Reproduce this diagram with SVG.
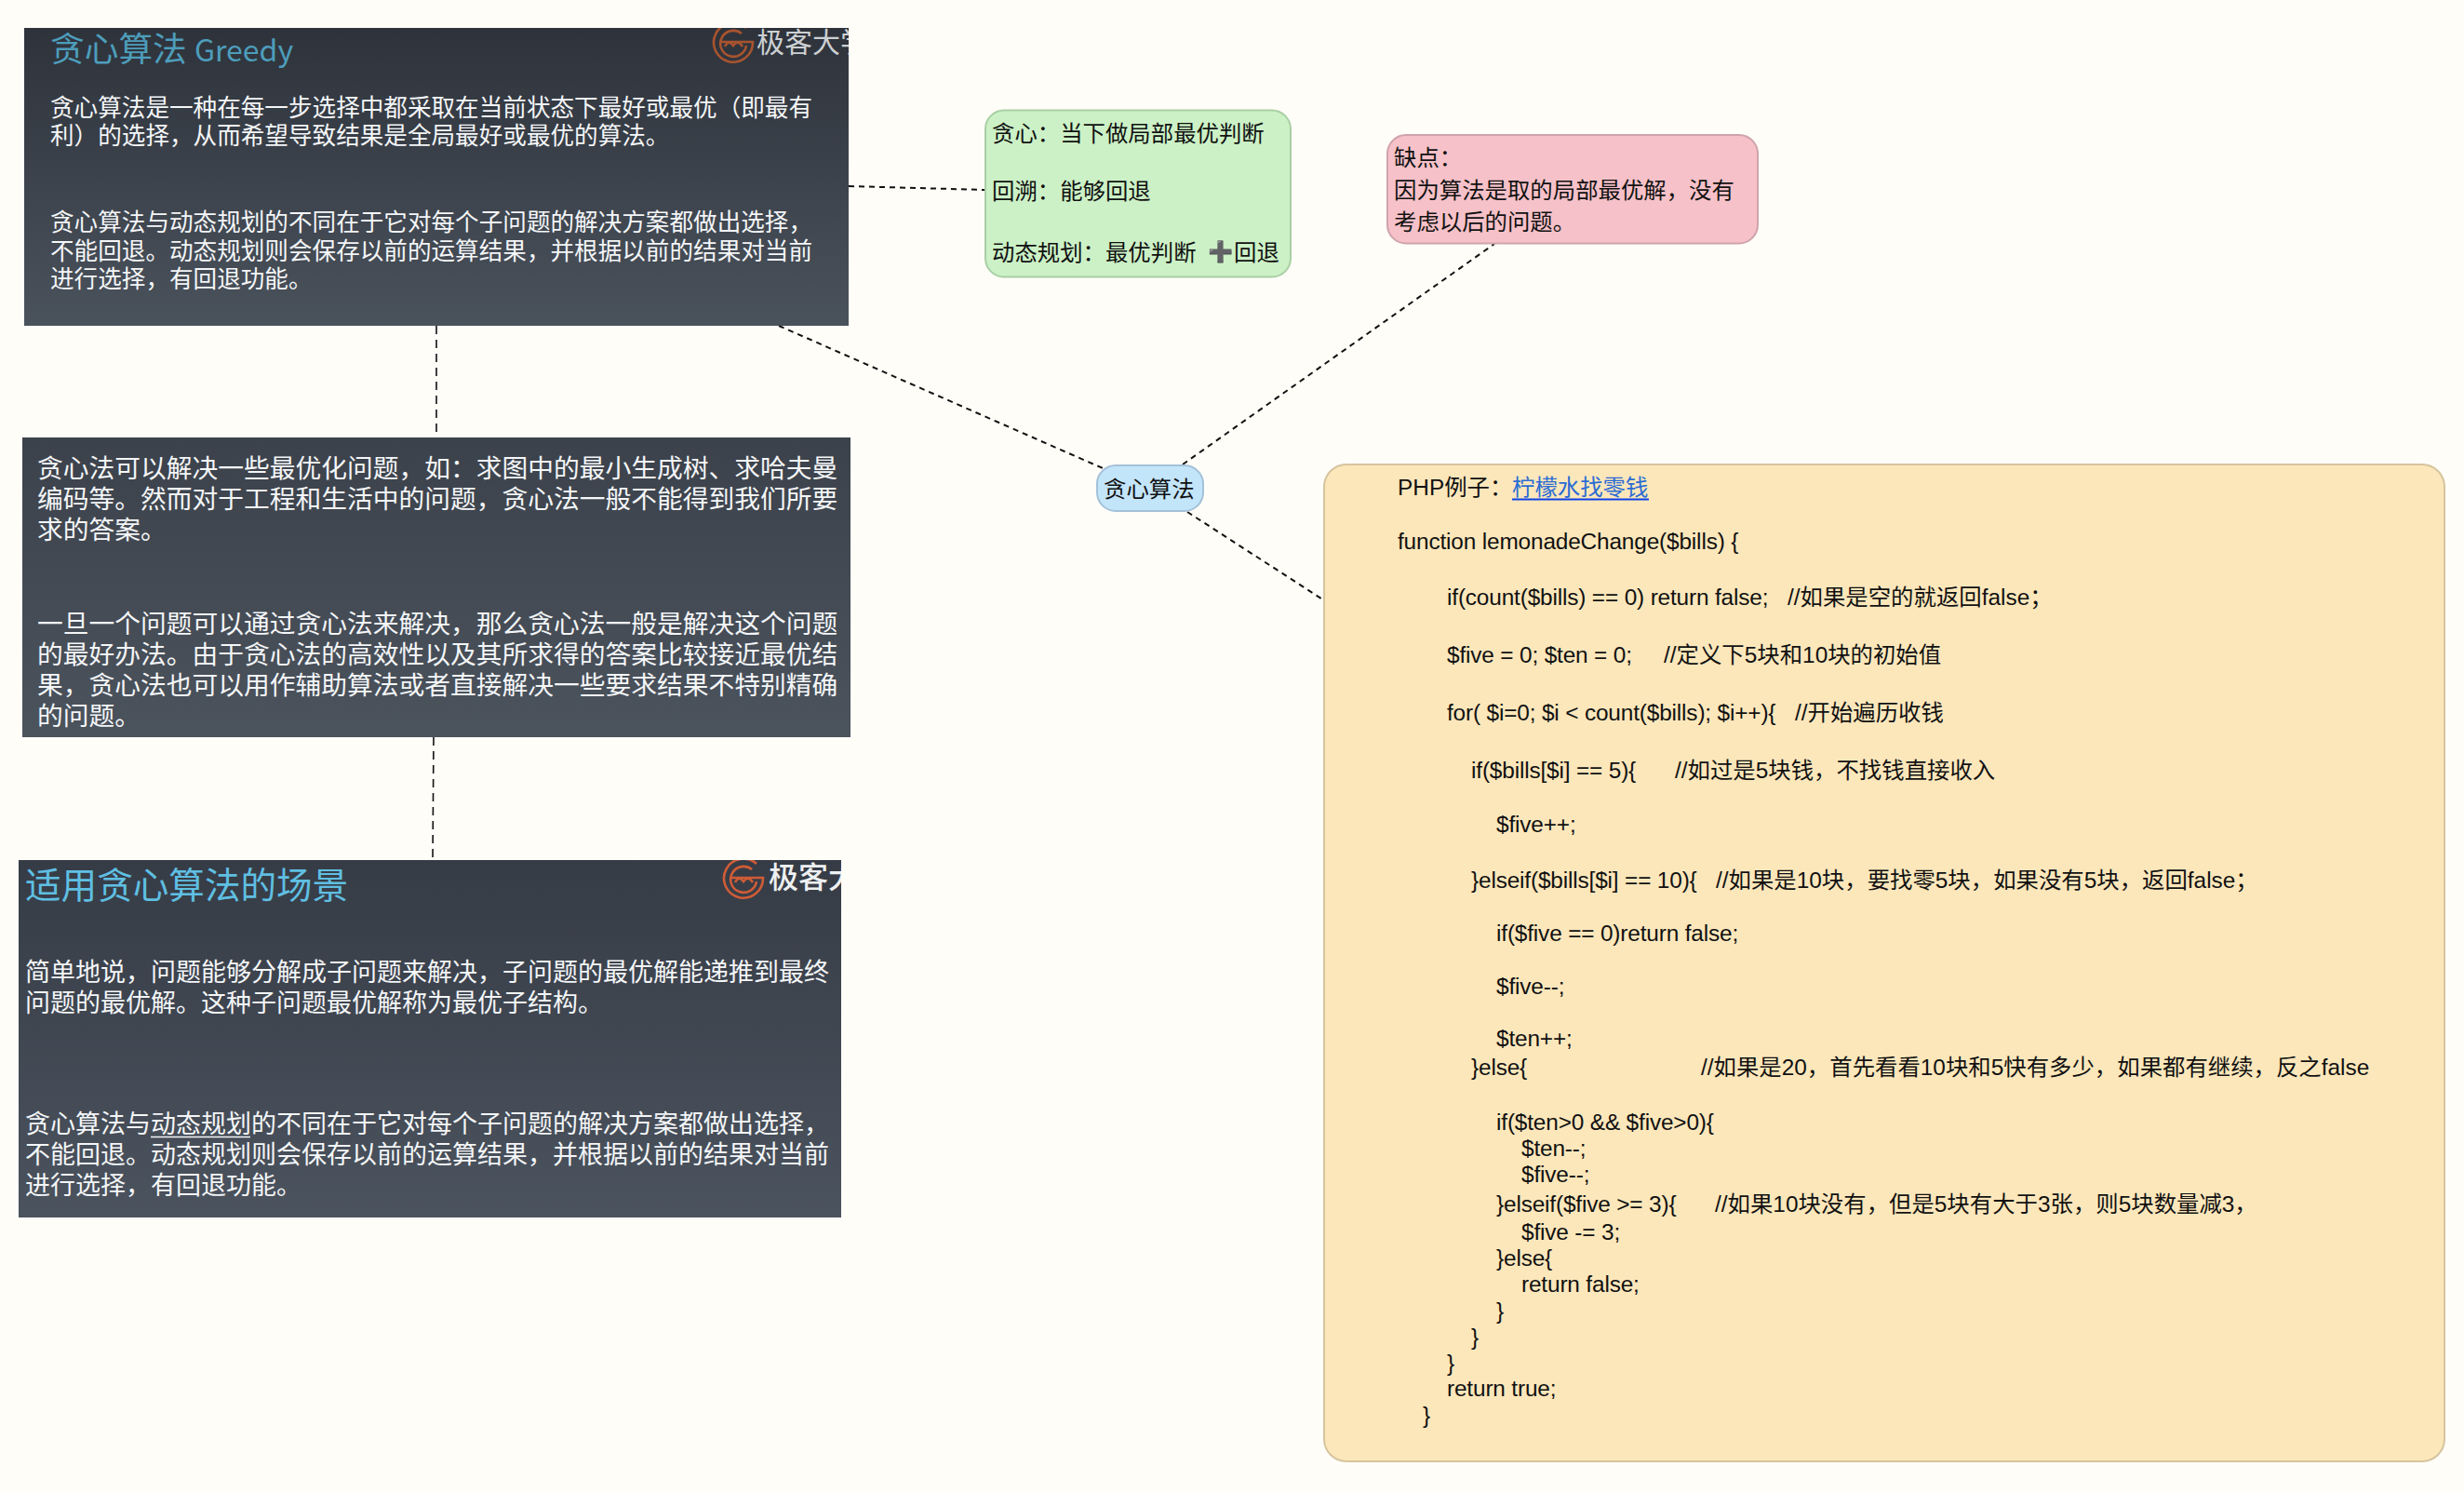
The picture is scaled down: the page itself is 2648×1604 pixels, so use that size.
<svg xmlns="http://www.w3.org/2000/svg" width="2648" height="1604" viewBox="0 0 2648 1604">
<defs>
<style>
text{font-family:"Liberation Sans","Noto Sans CJK SC",sans-serif;white-space:pre}
.w{fill:#f4f6f8;font-family:"Noto Sans CJK SC",sans-serif}
.w1{font-size:25.6px}.w2{font-size:27.75px}.w3{font-size:27px}
.k{fill:#111;font-size:24.4px}
.l{letter-spacing:-.16px}
.l tspan{letter-spacing:0}
.c{fill:none;stroke:#111;stroke-width:2;stroke-dasharray:6 5}
.v{fill:none;stroke:#111;stroke-width:1.6;stroke-dasharray:9 6}
.lg{fill:none;stroke-width:2.6}
</style>
<linearGradient id="g1" x1="0" y1="0" x2="0" y2="1"><stop offset="0" stop-color="#2e333b"/><stop offset="1" stop-color="#4a525c"/></linearGradient>
<linearGradient id="g2" x1="0" y1="0" x2="0" y2="1"><stop offset="0" stop-color="#3c424b"/><stop offset="1" stop-color="#4b535d"/></linearGradient>
<linearGradient id="g3" x1="0" y1="0" x2="0" y2="1"><stop offset="0" stop-color="#363c46"/><stop offset="1" stop-color="#4b535e"/></linearGradient>
<clipPath id="cp1"><rect x="26" y="30" width="886" height="320"/></clipPath>
<clipPath id="cp3"><rect x="20" y="924" width="884" height="384"/></clipPath>
<symbol id="logo" overflow="visible">
<path class="lg" d="M14-16A21 21 0 1 0 21-1H-13"/>
<path class="lg" d="M9-10A14 14 0 1 0 14 3"/>
<path class="lg" d="M-9 4Q-5-4 0 3Q5-4 10 4"/>
</symbol>
</defs>
<rect width="2648" height="1604" fill="#fffdf8"/>
<g id="connectors">
<path class="c" d="M912 200L1059 204"/>
<path class="v" d="M469 350V470"/>
<path class="v" d="M466 792L465 924"/>
<path class="c" d="M837 350L1185 503"/>
<path class="c" d="M1271 499L1606 262"/>
<path class="c" d="M1276 550L1423 645"/>
</g>
<g id="node-greedy">
<rect x="26" y="30" width="886" height="320" fill="url(#g1)"/>
<g clip-path="url(#cp1)">
<use href="#logo" x="788" y="46" stroke="#a8532f"/>
<text x="813" y="56" font-size="30" fill="#cdd0d3" style="font-family:'Noto Sans CJK SC',sans-serif">极客大学</text>
</g>
<text x="54" y="66" font-size="36.7" fill="#4d9dbb" style="font-family:'Noto Sans CJK SC',sans-serif">贪心算法 <tspan font-size="32">Greedy</tspan></text>
<text class="w w1" x="54" y="125">贪心算法是一种在每一步选择中都采取在当前状态下最好或最优（即最有</text>
<text class="w w1" x="54" y="155">利）的选择，从而希望导致结果是全局最好或最优的算法。</text>
<text class="w w1" x="54" y="248">贪心算法与动态规划的不同在于它对每个子问题的解决方案都做出选择，</text>
<text class="w w1" x="54" y="279">不能回退。动态规划则会保存以前的运算结果，并根据以前的结果对当前</text>
<text class="w w1" x="54" y="309">进行选择，有回退功能。</text>
</g>
<g id="node-uses">
<rect x="24" y="470" width="890" height="322" fill="url(#g2)"/>
<text class="w w2" x="40" y="513">贪心法可以解决一些最优化问题，如：求图中的最小生成树、求哈夫曼</text>
<text class="w w2" x="40" y="546">编码等。然而对于工程和生活中的问题，贪心法一般不能得到我们所要</text>
<text class="w w2" x="40" y="579">求的答案。</text>
<text class="w w2" x="40" y="680">一旦一个问题可以通过贪心法来解决，那么贪心法一般是解决这个问题</text>
<text class="w w2" x="40" y="713">的最好办法。由于贪心法的高效性以及其所求得的答案比较接近最优结</text>
<text class="w w2" x="40" y="746">果，贪心法也可以用作辅助算法或者直接解决一些要求结果不特别精确</text>
<text class="w w2" x="40" y="779">的问题。</text>
</g>
<g id="node-scene">
<rect x="20" y="924" width="884" height="384" fill="url(#g3)"/>
<g clip-path="url(#cp3)">
<use href="#logo" x="799" y="944" stroke="#cf5c36"/>
<text x="826" y="954" font-size="32" fill="#eef0f2" font-weight="500" style="font-family:'Noto Sans CJK SC',sans-serif">极客大学</text>
</g>
<text x="27" y="965" font-size="38.6" fill="#5fbfe2" style="font-family:'Noto Sans CJK SC',sans-serif">适用贪心算法的场景</text>
<text class="w w3" x="27" y="1054">简单地说，问题能够分解成子问题来解决，子问题的最优解能递推到最终</text>
<text class="w w3" x="27" y="1087">问题的最优解。这种子问题最优解称为最优子结构。</text>
<text class="w w3" x="27" y="1217">贪心算法与动态规划的不同在于它对每个子问题的解决方案都做出选择，</text>
<path d="M162 1221.500H269" stroke="#f4f6f8" stroke-width="1.500"/>
<text class="w w3" x="27" y="1250">不能回退。动态规划则会保存以前的运算结果，并根据以前的结果对当前</text>
<text class="w w3" x="27" y="1283">进行选择，有回退功能。</text>
</g>
<g id="node-green">
<rect x="1059" y="118.500" width="328" height="179" rx="20" fill="#ccf1c6" stroke="#a9cfa4" stroke-width="2"/>
<text class="k" x="1066" y="152">贪心：当下做局部最优判断</text>
<text class="k" x="1066" y="214">回溯：能够回退</text>
<text class="k" x="1066" y="280">动态规划：最优判断</text>
<text x="1298" y="278" font-size="22" fill="#4a4a4a" style="font-family:'DejaVu Sans',sans-serif">➕</text>
<text class="k" x="1326" y="280">回退</text>
</g>
<g id="node-pink">
<rect x="1491" y="145" width="398" height="116.500" rx="20" fill="#f6c1c8" stroke="#cfa3ab" stroke-width="2"/>
<text class="k" x="1498" y="178">缺点：</text>
<text class="k" x="1498" y="213">因为算法是取的局部最优解，没有</text>
<text class="k" x="1498" y="247">考虑以后的问题。</text>
</g>
<g id="node-center">
<rect x="1179" y="500" width="114" height="49" rx="20" fill="#c3e5fa" stroke="#a4c1d8" stroke-width="2"/>
<text class="k" x="1186" y="534">贪心算法</text>
</g>
<g id="node-php">
<rect x="1423" y="499" width="1204" height="1071" rx="24" fill="#fce7bb" stroke="#d6c49e" stroke-width="2"/>
<text class="k" x="1502" y="532">PHP例子：<tspan x="1625" fill="#2b6cd4">柠檬水找零钱</tspan></text>
<path d="M1625 536.500H1772" stroke="#0a40e8" stroke-width="2"/>
<text class="k l" x="1502" y="590">function lemonadeChange($bills) {</text>
<text class="k l" x="1555" y="650">if(count($bills) == 0) return false;<tspan x="1921">//如果是空的就返回false；</tspan></text>
<text class="k l" x="1555" y="712">$five = 0; $ten = 0;<tspan x="1788">//定义下5块和10块的初始值</tspan></text>
<text class="k l" x="1555" y="774">for( $i=0; $i &lt; count($bills); $i++){<tspan x="1929">//开始遍历收钱</tspan></text>
<text class="k l" x="1581" y="836">if($bills[$i] == 5){<tspan x="1800">//如过是5块钱，不找钱直接收入</tspan></text>
<text class="k l" x="1608" y="894">$five++;</text>
<text class="k l" x="1581" y="954">}elseif($bills[$i] == 10){<tspan x="1844">//如果是10块，要找零5块，如果没有5块，返回false；</tspan></text>
<text class="k l" x="1608" y="1011">if($five == 0)return false;</text>
<text class="k l" x="1608" y="1068">$five--;</text>
<text class="k l" x="1608" y="1124">$ten++;</text>
<text class="k l" x="1581" y="1155">}else{<tspan x="1828">//如果是20，首先看看10块和5快有多少，如果都有继续，反之false</tspan></text>
<text class="k l" x="1608" y="1214">if($ten&gt;0 &amp;&amp; $five&gt;0){</text>
<text class="k l" x="1635" y="1242">$ten--;</text>
<text class="k l" x="1635" y="1270">$five--;</text>
<text class="k l" x="1608" y="1302">}elseif($five &gt;= 3){<tspan x="1843">//如果10块没有，但是5块有大于3张，则5块数量减3，</tspan></text>
<text class="k l" x="1635" y="1332">$five -= 3;</text>
<text class="k l" x="1608" y="1360">}else{</text>
<text class="k l" x="1635" y="1388">return false;</text>
<text class="k l" x="1608" y="1417">}</text>
<text class="k l" x="1581" y="1445">}</text>
<text class="k l" x="1555" y="1473">}</text>
<text class="k l" x="1555" y="1500">return true;</text>
<text class="k l" x="1529" y="1529">}</text>
</g>
</svg>
